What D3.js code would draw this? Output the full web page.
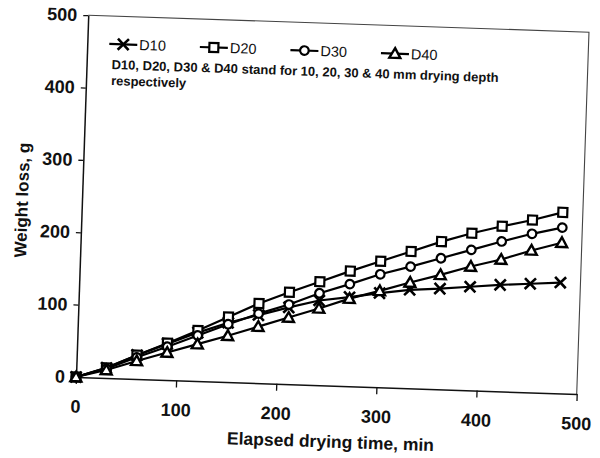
<!DOCTYPE html>
<html>
<head>
<meta charset="utf-8">
<script src="https://cdn.jsdelivr.net/npm/d3@7"></script>
<style>
  html, body { margin: 0; padding: 0; background: #fff; }
  svg { display: block; }
  text { font-family: "Liberation Sans", Arial, sans-serif; fill: #111; }
</style>
</head>
<body>
<svg id="chart" width="600" height="458"></svg>
<script>
// ---- data ----
const times = [0, 30, 60, 90, 120, 150, 180, 210, 240, 270, 300, 330, 360, 390, 420, 450, 480];
const d10 = [0, 14, 33, 50, 67, 82, 94, 106, 117, 123, 130, 136, 139, 143, 147, 150, 153];
const d20 = [0, 14, 33, 51, 70, 90, 110, 127, 143, 159, 174, 189, 204, 217, 228, 238, 250];
const d30 = [0, 13, 30, 46, 63, 80, 96, 110, 127, 141, 156, 168, 181, 194, 207, 219, 229];
const d40 = [0, 11, 25, 38, 51, 64, 78, 92, 106, 121, 133, 146, 158, 171, 182, 196, 208];
const seriesNames = ["D10", "D20", "D30", "D40"];
const seriesMarkers = ["cross", "square", "circle", "triangle"];
const xTicks = [0, 100, 200, 300, 400, 500];
const yTicks = [0, 100, 200, 300, 400, 500];
const xTitle = "Elapsed drying time, min";
const yTitle = "Weight loss, g";
const note1 = "D10, D20, D30 & D40 stand for 10, 20, 30 & 40 mm drying depth";
const note2 = "respectively";

const seriesValues = [d10, d20, d30, d40];

// ---- layout ----
const W = 501, H = 362;
const tilt = 1.94; // the scanned figure is slightly rotated
const svg = d3.select("#chart");
svg.append("rect").attr("width", 600).attr("height", 458).attr("fill", "#fff");

const g = svg.append("g")
  .attr("transform", `translate(76,377) rotate(${tilt}) translate(0,${-H})`);

const x = d3.scaleLinear().domain([0, 500]).range([0, W]);
const y = d3.scaleLinear().domain([0, 500]).range([H, 0]);

// frame (top and right)
g.append("path")
  .attr("d", `M0,0H${W}V${H}`)
  .attr("fill", "none").attr("stroke", "#444").attr("stroke-width", 1.1);

// axes
const yAxis = g.append("g")
  .call(d3.axisLeft(y).tickValues(yTicks).tickSize(5).tickSizeOuter(0).tickPadding(6));
const xAxis = g.append("g").attr("transform", `translate(0,${H})`)
  .call(d3.axisBottom(x).tickValues(xTicks).tickSize(7).tickSizeOuter(0).tickPadding(16));
[xAxis, yAxis].forEach(a => {
  a.selectAll("path").attr("stroke", "#111").attr("stroke-width", 1.5);
  a.selectAll("line").attr("stroke", "#111").attr("stroke-width", 1.3);
  a.selectAll("text")
    .style("font-family", '"Liberation Sans", Arial, sans-serif')
    .style("font-size", "18px").style("font-weight", "bold").attr("fill", "#111");
});

// axis titles
g.append("text")
  .attr("x", W / 2 + 6).attr("y", H + 62)
  .attr("text-anchor", "middle")
  .style("font-size", "17.5px")
  .style("font-weight", "bold")
  .text(xTitle);
g.append("text")
  .attr("transform", `translate(-54,${H / 2 + 6}) rotate(-90)`)
  .attr("text-anchor", "middle")
  .style("font-size", "17px")
  .style("font-weight", "bold")
  .text(yTitle);

// marker drawing
function drawMarker(sel, type) {
  if (type === "cross") {
    sel.append("path").attr("d", "M-5.5,-5.5L5.5,5.5M-5.5,5.5L5.5,-5.5")
      .attr("stroke", "#000").attr("stroke-width", 2.6).attr("fill", "none");
  } else if (type === "square") {
    sel.append("rect").attr("x", -4.5).attr("y", -4.5).attr("width", 9).attr("height", 9)
      .attr("fill", "#fff").attr("stroke", "#000").attr("stroke-width", 2.2);
  } else if (type === "circle") {
    sel.append("circle").attr("r", 4.3)
      .attr("fill", "#fff").attr("stroke", "#000").attr("stroke-width", 2.2);
  } else {
    sel.append("path").attr("d", "M0,-5.5L5.5,4.2L-5.5,4.2Z")
      .attr("fill", "#fff").attr("stroke", "#000").attr("stroke-width", 2.4)
      .attr("stroke-linejoin", "miter");
  }
}

const line = d3.line().x(d => x(d[0])).y(d => y(d[1]));

seriesValues.forEach((vals, i) => {
  const pts = times.map((t, j) => [t, vals[j]]);
  g.append("path").datum(pts).attr("d", line)
    .attr("fill", "none").attr("stroke", "#000").attr("stroke-width", 2.2);
});
seriesValues.forEach((vals, i) => {
  const pts = times.map((t, j) => [t, vals[j]]);
  g.append("g").selectAll("g").data(pts).join("g")
    .attr("transform", d => `translate(${x(d[0])},${y(d[1])})`)
    .each(function () { drawMarker(d3.select(this), seriesMarkers[i]); });
});

// legend
const leg = g.append("g").attr("transform", "translate(22,28)");
let cx = 0;
seriesNames.forEach((name, i) => {
  const it = leg.append("g").attr("transform", `translate(${cx},0)`);
  it.append("line").attr("x1", 0).attr("x2", 28).attr("y1", 0).attr("y2", 0)
    .attr("stroke", "#000").attr("stroke-width", 2.2);
  drawMarker(it.append("g").attr("transform", "translate(14,0)"), seriesMarkers[i]);
  const t = it.append("text").attr("x", 30).attr("y", 5)
    .style("font-size", "14.5px").text(name);
  cx += 30 + t.node().getComputedTextLength() + 34;
});

g.append("text").attr("x", 25).attr("y", 53)
  .style("font-size", "13px").style("font-weight", "bold").text(note1);
g.append("text").attr("x", 25).attr("y", 69)
  .style("font-size", "13px").style("font-weight", "bold").text(note2);
</script>
</body>
</html>
